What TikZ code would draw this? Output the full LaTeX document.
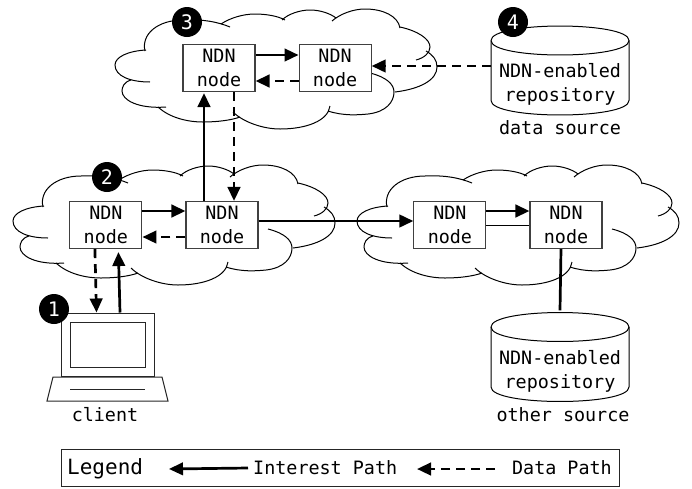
\documentclass[tikz,border=0pt]{standalone}
\usepackage{fontspec}
\setmonofont{DejaVu Sans Mono}
\usetikzlibrary{positioning,arrows.meta}
\tikzset{
  ndnnode/.style={draw=black!75,fill=white,line width=1.1pt,minimum width=72pt,minimum height=47pt,
    inner sep=0pt,align=center,font=\ttfamily\fontsize{18.4}{24}\selectfont},
  repo/.style={minimum width=138pt,minimum height=61pt,inner sep=0pt,align=center,
    font=\ttfamily\fontsize{18.4}{24}\selectfont},
  caption/.style={inner sep=0pt,font=\ttfamily\fontsize{18.4}{21}\selectfont},
  badge/.style={circle,fill=black,text=white,minimum size=30pt,inner sep=0pt,
    font=\ttfamily\fontsize{20}{20}\selectfont},
  thinbox/.style={draw=black!85,line width=1pt,inner sep=0pt},
  interest/.style={-{Triangle[length=14pt,width=12.5pt]},line width=2.7pt},
  datapath/.style={-{Triangle[length=14pt,width=12.5pt]},line width=2.7pt,dash pattern=on 9pt off 6pt},
  pics/ndncloud/.style={code={
    \draw[line width=1pt] (-131,-18) .. controls (-135,-35) and (-118,-49) .. (-93,-49) .. controls (-73,-50) and (-58,-47) .. (-46,-42);
    \draw[line width=1pt] (-130,-19) .. controls (-148,-18) and (-161,-12) .. (-161,-4) .. controls (-161,7) and (-146,13) .. (-126,13);
    \draw[line width=1pt] (-145,11) .. controls (-152,13) and (-154,18) .. (-154,22) .. controls (-154,31) and (-138,40) .. (-110,38);
    \draw[line width=1pt] (-118,38) .. controls (-106,49) and (-88,53) .. (-73,53) .. controls (-58,53) and (-44,51) .. (-36,48);
    \draw[line width=1pt] (-43,43) .. controls (-33,53) and (-13,60) .. (4,60) .. controls (30,60) and (52,52) .. (54,37);
    \draw[line width=1pt] (52,42) .. controls (67,47) and (82,46) .. (92,45) .. controls (110,43) and (118,33) .. (118,23) .. controls (118,15) and (110,8) .. (94,4);
    \draw[line width=1pt] (119,23) .. controls (144,20) and (161,11) .. (161,-2) .. controls (161,-9) and (157,-14) .. (150,-18);
    \draw[line width=1pt] (124,-42) .. controls (142,-38) and (154,-30) .. (154,-22) .. controls (154,-16) and (148,-11) .. (140,-9);
    \draw[line width=1pt] (56,-48) .. controls (64,-55) and (77,-60) .. (89,-60) .. controls (107,-60) and (122,-53) .. (124,-41);
    \draw[line width=1pt] (6,-49) .. controls (12,-55) and (24,-59) .. (34,-59) .. controls (45,-59) and (55,-55) .. (60,-51);
    \draw[line width=1pt] (-55,-45) .. controls (-46,-51) and (-33,-55) .. (-21,-55) .. controls (-10,-55) and (2,-53) .. (9,-49);
  }},
  pics/repodrum/.style={code={
    \draw[line width=1pt,fill=white] (-69,-30) .. controls (-69,-49.3) and (69,-49.3) .. (69,-30) -- (69,30)
      .. controls (69,49.3) and (-69,49.3) .. (-69,30) -- cycle;
    \draw[line width=1pt] (-69,-30) .. controls (-69,-10.7) and (69,-10.7) .. (69,-30);
  }}
}
\begin{document}
\begin{tikzpicture}[x=1pt,y=-1pt]
  \useasboundingbox (0,0) rectangle (692,488);

  \pic at (276,69) {ndncloud};
  \pic at (174,225) {ndncloud};
  \pic at (518,225) {ndncloud};

  \node[ndnnode] (topa) at (219,68) {NDN\\node};
  \node[ndnnode, right=43pt of topa] (topb) {NDN\\node};
  \node[ndnnode] (edgeb) at (222,225) {NDN\\node};
  \node[ndnnode, left=43pt of edgeb] (edgea) {NDN\\node};
  \node[ndnnode] (otherb) at (566,225) {NDN\\node};
  \node[ndnnode, left=43pt of otherb] (othera) {NDN\\node};

  \pic at (560,70.5) {repodrum};
  \node[repo] (repodata) at (560,84.5) {NDN-enabled\\repository};
  \node[caption, below=5pt of repodata] (datalabel) {data source};
  \pic at (560,357) {repodrum};
  \node[repo] (repoother) at (560,371) {NDN-enabled\\repository};
  \node[caption, below=6pt of repoother, xshift=3pt] (otherlabel) {other source};

  % client
  \node[thinbox,minimum width=93pt,minimum height=63pt] (screen) at (107.5,344.5) {};
  \node[thinbox,minimum width=75pt,minimum height=45pt] (display) at (screen) {};
  \coordinate (basetl) at (53,377);
  \coordinate (basetr) at (162,377);
  \coordinate (basebr) at (168,401);
  \coordinate (basebl) at (47,401);
  \draw[thinbox] (basetl) -- (basetr) -- (basebr) -- (basebl) -- cycle;
  \coordinate (keysl) at (70,389);
  \coordinate (keysr) at (145,389);
  \draw[thinbox] (keysl) -- (keysr);
  \node[caption] (clientlabel) at (105,415) {client};

  \draw[interest] ([yshift=13pt]topa.east) -- ([yshift=13pt]topb.west);
  \draw[datapath] ([yshift=-13pt]topb.west) -- ([yshift=-13pt]topa.east);
  \draw[datapath] ([yshift=18.5pt]repodata.west) -- ([yshift=2pt]topb.east);
  \draw[interest] ([xshift=-18pt]edgeb.north) -- ([xshift=-15pt,yshift=-1pt]topa.south);
  \draw[datapath] ([xshift=15pt]topa.south) -- ([xshift=12pt]edgeb.north);
  \draw[interest] ([yshift=14pt]edgea.east) -- ([yshift=14pt]edgeb.west);
  \draw[datapath] ([yshift=-12pt]edgeb.west) -- ([yshift=-12pt]edgea.east);
  \draw[interest] ([yshift=4pt]edgeb.east) -- ([yshift=4pt]othera.west);
  \draw[interest] ([yshift=14pt]othera.east) -- ([yshift=14pt]otherb.west);
  \draw[line width=1pt] (othera.east) -- (otherb.west);
  \draw[datapath] ([xshift=-11pt]edgea.south) -- ([xshift=-11pt]screen.north);
  \draw[interest] ([xshift=12.5pt]screen.north) -- ([xshift=12.5pt,yshift=-3pt]edgea.south);
  \draw[line width=2.7pt] ([xshift=-5pt]otherb.south) -- ([yshift=30pt]repoother.north);

  \node[badge] (stepone) at (54,309) {1};
  \node[badge] (steptwo) at (107,177) {2};
  \node[badge] (stepthree) at (187,22) {3};
  \node[badge] (stepfour) at (513,22) {4};

  % legend
  \node[thinbox,minimum width=558pt,minimum height=37pt] (legendbox) at (340,467.5) {};
  \node[caption, font=\ttfamily\fontsize{21}{24}\selectfont, anchor=west] (legendlabel) at (67,469) {Legend};
  \node[caption, anchor=west] (interestlabel) at (253,468) {Interest Path};
  \node[caption, anchor=east] (datalegend) at (612,468) {Data Path};
  \coordinate (interesttip) at (169,469);
  \coordinate (datatail) at (495,469);
  \coordinate (datatip) at (417,469);
  \draw[interest] ([xshift=-5pt]interestlabel.west) -- (interesttip);
  \draw[datapath] (datatail) -- (datatip);
\end{tikzpicture}
\end{document}
